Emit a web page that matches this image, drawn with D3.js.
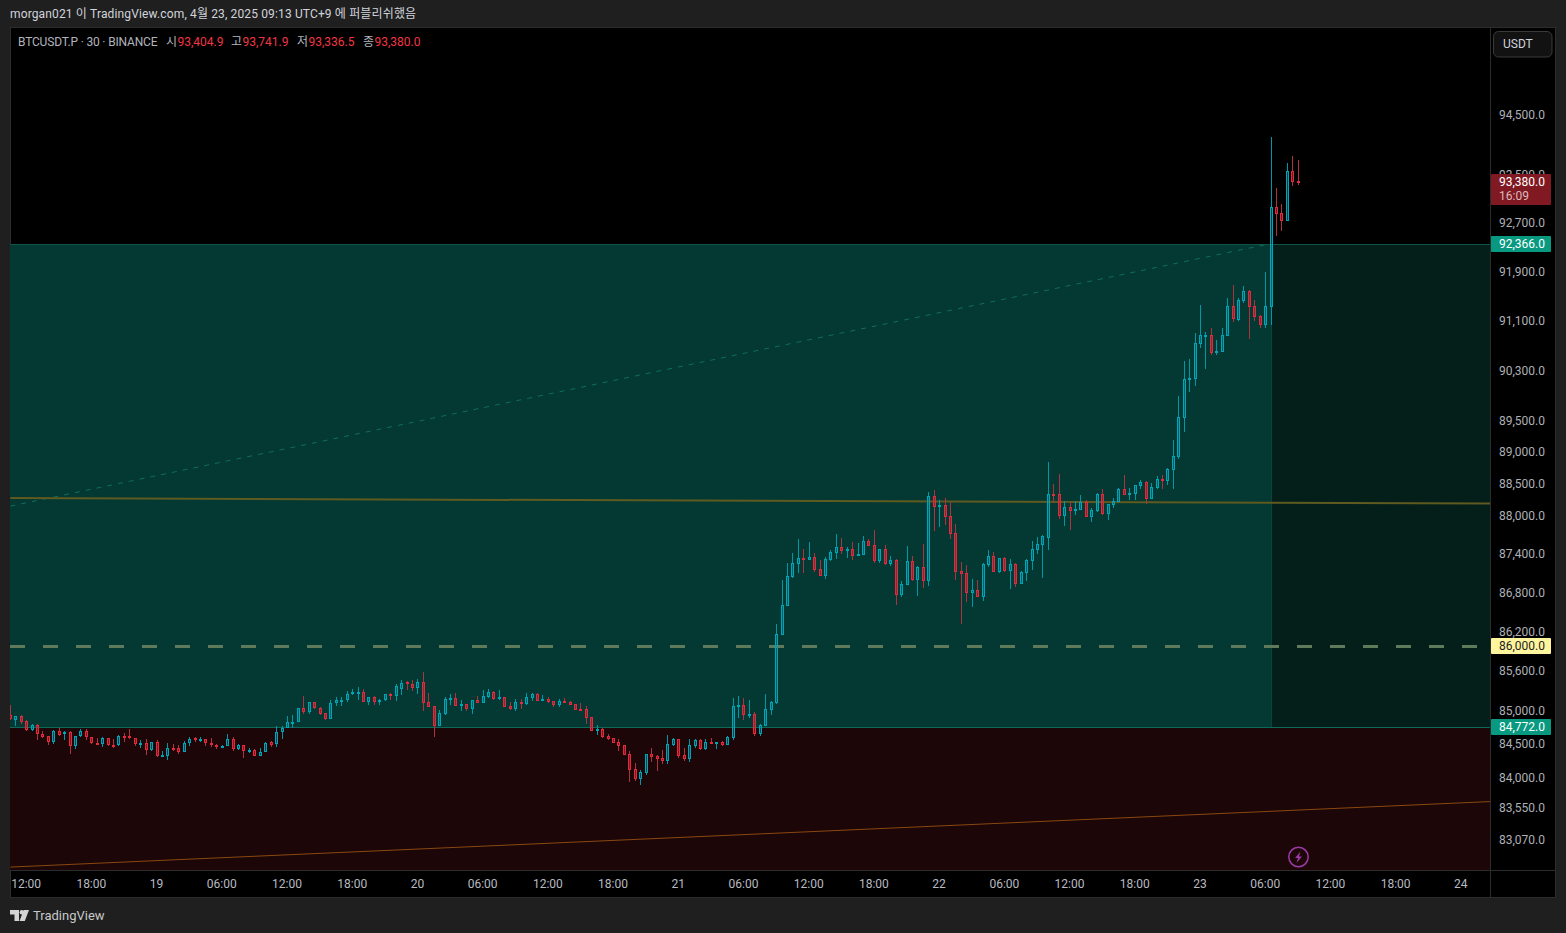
<!DOCTYPE html>
<html><head><meta charset="utf-8">
<script src="https://cdn.jsdelivr.net/npm/d3@7/dist/d3.min.js"></script>
<style>html,body{margin:0;background:#1f1f1f;overflow:hidden}text{font-family:Roboto,"Noto Sans CJK KR",sans-serif}</style>
</head><body><svg id="c" width="1566" height="933"></svg>
<script>
const opens=[84950,84875,84935,84860,84715,84800,84660,84630,84535,84705,84655,84690,84475,84625,84705,84615,84530,84505,84600,84500,84490,84630,84630,84600,84505,84525,84415,84540,84325,84325,84450,84450,84385,84520,84595,84575,84585,84525,84495,84475,84475,84585,84430,84495,84395,84420,84325,84385,84535,84505,84685,84745,84835,84835,85050,84985,85140,85050,84975,84880,85120,85165,85175,85255,85285,85295,85145,85220,85135,85165,85265,85235,
85341,85437,85417,85356,85442,85145,85085,84783,84964,85191,85206,85090,85115,85040,85175,85130,85221,85296,85191,85221,85085,85040,85145,85115,85206,85266,85175,85191,85160,85100,85160,85145,85115,85040,85040,84919,84708,84738,84632,84602,84542,84496,84361,84134,83983,84074,84361,84330,84300,84255,84496,84587,84345,84285,84481,84572,84436,84542,84527,84542,84496,84602,85085,85100,84949,84964,84662,84783,85025,85130,
86166,86599,87048,87249,87342,87311,87358,87172,87063,87311,87419,87512,87466,87481,87373,87389,87605,87543,87296,87481,87249,87311,86769,86924,87296,87002,87203,86986,88317,88147,88178,88008,87729,87141,87110,86800,86847,86738,87234,87373,87125,87342,87141,87249,86940,87110,87296,87466,87543,87664,
88353,88353,88009,88150,88103,88103,88228,87993,88087,88353,88040,88181,88228,88432,88353,88353,88479,88541,88275,88447,88588,88557,88729,88933,89549,90176,90176,90739,90868,90884,90611,90611,90868,91351,91126,91431,91592,91351,91190,91040,91336,92973,92873,92740,93570,93404.9];
const closes=[84885,84930,84845,84715,84795,84655,84620,84535,84710,84650,84690,84475,84630,84705,84610,84520,84520,84605,84490,84490,84630,84620,84595,84505,84525,84415,84540,84325,84340,84445,84440,84385,84525,84585,84585,84585,84520,84490,84475,84480,84585,84430,84495,84400,84420,84325,84390,84525,84500,84690,84750,84840,84845,85050,84990,85140,85045,84965,84880,85125,85170,85175,85260,85290,85295,85145,85215,85135,85175,85260,85250,85385,
85427,85427,85356,85447,85130,85070,84783,84979,85191,85206,85085,85110,85040,85175,85130,85236,85296,85191,85221,85070,85040,85145,85130,85221,85266,85160,85191,85145,85100,85160,85130,85100,85025,85030,84904,84708,84738,84617,84587,84527,84481,84345,84119,83983,84089,84361,84315,84285,84255,84511,84587,84330,84285,84496,84572,84436,84542,84511,84542,84496,84617,85085,85100,84949,84964,84662,84798,85040,85145,86181,
86614,87063,87265,87342,87311,87358,87156,87063,87327,87435,87512,87450,87481,87373,87404,87605,87528,87296,87481,87249,87311,86769,86940,87296,87002,87203,86986,88317,88147,88178,87992,87714,87125,87094,86800,86847,86738,87249,87373,87125,87342,87141,87249,86940,87125,87311,87481,87559,87683,88353,
88338,88009,88150,88087,88118,88228,87993,88103,88353,88040,88197,88244,88432,88338,88369,88494,88541,88275,88463,88588,88573,88745,88949,89565,90176,90193,90756,90884,90884,90595,90627,90884,91351,91142,91447,91592,91335,91174,91045,91351,92973,92857,92740,93570,93387,93380];
const highs=[85100,84935,84950,84875,84805,84815,84705,84635,84725,84755,84705,84705,84630,84740,84735,84620,84605,84620,84605,84585,84645,84680,84740,84600,84570,84590,84540,84570,84410,84525,84510,84495,84555,84615,84620,84620,84585,84605,84510,84500,84665,84620,84510,84495,84450,84435,84450,84540,84555,84785,84785,84930,84950,85050,85235,85140,85140,85065,84975,85175,85220,85220,85315,85340,85370,85340,85220,85235,85190,85265,85280,85415,
85467,85462,85467,85492,85598,85281,85085,85019,85221,85266,85281,85175,85115,85175,85236,85326,85341,85311,85326,85221,85145,85191,85191,85281,85281,85281,85251,85221,85160,85191,85206,85160,85115,85130,85085,84919,84798,84753,84662,84602,84587,84496,84406,84225,84119,84361,84451,84345,84421,84647,84602,84587,84451,84587,84587,84587,84587,84602,84542,84557,84632,85206,85236,85206,85175,84994,84813,85266,85160,86336,
86999,87265,87419,87636,87481,87590,87419,87311,87358,87466,87714,87652,87512,87590,87574,87683,87636,87776,87481,87543,87373,87327,86986,87528,87373,87218,87559,88379,88410,88255,88286,88224,87884,87280,87234,87017,87002,87265,87466,87435,87342,87358,87327,87265,87141,87327,87605,87667,87698,88855,
88510,88667,88244,88228,88244,88338,88259,88134,88369,88432,88197,88291,88447,88651,88447,88494,88573,88557,88526,88635,88651,88761,89199,89903,90466,90498,90916,91367,90933,90997,90804,90997,91479,91689,91479,91672,91608,91447,91206,91894,94134,93288,93022,93703,93819,93741.9];
const lows=[84875,84775,84815,84700,84700,84565,84600,84490,84505,84635,84565,84355,84430,84620,84565,84505,84490,84460,84475,84445,84475,84535,84580,84475,84445,84340,84400,84310,84310,84265,84400,84355,84385,84475,84535,84535,84475,84460,84430,84460,84475,84400,84415,84295,84370,84325,84325,84385,84460,84460,84580,84745,84745,84835,84965,84965,85035,84945,84865,84880,85075,85075,85145,85245,85175,85135,85100,85090,85090,85160,85175,85160,
85251,85326,85311,85266,85009,85070,84617,84783,84949,85100,85085,85009,85009,84964,85130,85130,85206,85175,85175,85070,85025,85009,85040,85100,85160,85160,85160,85130,85070,85070,85130,85100,85025,85025,84813,84708,84647,84602,84572,84527,84406,84345,83938,83953,83893,84044,84240,84104,84210,84210,84481,84300,84255,84240,84451,84421,84421,84511,84436,84481,84496,84572,84904,84874,84904,84632,84632,84783,84949,85115,
86166,86599,87032,87110,87110,87311,87125,87063,87017,87296,87327,87404,87342,87311,87373,87389,87528,87265,87265,87234,87218,86614,86738,86924,86986,86754,86878,86909,87760,87822,87868,87636,87002,86336,86661,86584,86738,86676,87203,87125,87110,87125,86862,86893,86940,86986,87156,87404,87032,87476,
88212,87962,87852,87789,88024,88103,87993,87915,88071,88024,87946,88134,88228,88338,88259,88259,88432,88197,88275,88432,88432,88494,88432,88902,89325,89967,90064,90675,90337,90563,90563,90611,90868,91093,91109,91399,90820,91109,90997,90990,91032,92492,92575,92740,93321,93336.5];

const priceTicks=[94500,93500,92700,91900,91100,90300,89500,89000,88500,88000,87400,86800,86200,85600,85000,84500,84000,83550,83070];
const timeTickDates=["2025-04-18T12:00Z","2025-04-18T18:00Z","2025-04-19T00:00Z","2025-04-19T06:00Z","2025-04-19T12:00Z","2025-04-19T18:00Z","2025-04-20T00:00Z","2025-04-20T06:00Z","2025-04-20T12:00Z","2025-04-20T18:00Z","2025-04-21T00:00Z","2025-04-21T06:00Z","2025-04-21T12:00Z","2025-04-21T18:00Z","2025-04-22T00:00Z","2025-04-22T06:00Z","2025-04-22T12:00Z","2025-04-22T18:00Z","2025-04-23T00:00Z","2025-04-23T06:00Z","2025-04-23T12:00Z","2025-04-23T18:00Z","2025-04-24T00:00Z"];
const timeTickLabels=["12:00","18:00","19","06:00","12:00","18:00","20","06:00","12:00","18:00","21","06:00","12:00","18:00","22","06:00","12:00","18:00","23","06:00","12:00","18:00","24"];
const firstBar="2025-04-18T10:30Z", lastBar="2025-04-23T09:00Z", barMs=1800000;
const takeProfit=92366, entryPrice=86000, stopPrice=84772, zoneEndBar="2025-04-23T06:30Z";
const ohlcLabels=["시","고","저","종"], ohlcValues=["93,404.9","93,741.9","93,336.5","93,380.0"];
const olivePrices=[88283,88197], orangePrices=[82680,83648], dashedPrices=[88156,92366];
const lineTimes=["2025-04-18T10:30Z","2025-04-24T02:40Z"], dashedTimes=["2025-04-18T10:30Z","2025-04-23T06:30Z"];

const svg=d3.select("#c");
const PL=10,PR=1490,PT=28,PB=870;
const x=d3.scaleUtc().domain([new Date(firstBar),new Date(lastBar)]).range([10.3,1298.3]);
const y=d3.scaleLog().domain([83070,94500]).range([840.6,115]);
const rx=t=>x(new Date(t));
const sx=i=>Math.floor(x(new Date(+new Date(firstBar)+i*barMs)));
const sy=v=>Math.round(y(v));
const cy=v=>Math.ceil(y(v));

// frame
svg.append("rect").attr("x",PL+.5).attr("y",27.5).attr("width",1545).attr("height",870).attr("fill","#000").attr("stroke","#2c2c2c");
svg.append("clipPath").attr("id","pane").append("rect").attr("x",PL).attr("y",PT).attr("width",PR-PL).attr("height",PB-PT);
const g=svg.append("g").attr("clip-path","url(#pane)");
const zx=Math.round(rx(zoneEndBar)+.7);
const zt=cy(takeProfit), zb=cy(stopPrice);
g.append("rect").attr("x",PL).attr("y",zt).attr("width",zx-PL).attr("height",zb-zt).attr("fill","#043832");
g.append("rect").attr("x",zx).attr("y",zt).attr("width",PR-zx).attr("height",zb-zt).attr("fill","#041f1a");
g.append("rect").attr("x",PL).attr("y",zb).attr("width",PR-PL).attr("height",PB-zb).attr("fill","#1c0608");
g.append("line").attr("x1",zx-.5).attr("x2",zx-.5).attr("y1",zt).attr("y2",zb).attr("stroke","#06473d");
g.append("line").attr("x1",PL).attr("x2",PR).attr("y1",zt+.5).attr("y2",zt+.5).attr("stroke","#0c5548");
g.append("line").attr("x1",PL).attr("x2",PR).attr("y1",zb+.5).attr("y2",zb+.5).attr("stroke","#0e6a58");

const ln=d3.line().x(d=>rx(d.t)).y(d=>y(d.p));
g.append("path").attr("d",ln(dashedTimes.map((t,i)=>({t,p:dashedPrices[i]})))).attr("fill","none").attr("stroke","#0f6e5a").attr("stroke-dasharray","5 6");
g.append("path").attr("d",ln(lineTimes.map((t,i)=>({t,p:olivePrices[i]})))).attr("fill","none").attr("stroke","#5f5a20").attr("stroke-width",2);
g.append("path").attr("d",ln(lineTimes.map((t,i)=>({t,p:orangePrices[i]})))).attr("fill","none").attr("stroke","#8a480f").attr("stroke-width",1);
g.append("line").attr("x1",PL).attr("x2",PR).attr("y1",cy(entryPrice)+.5).attr("y2",cy(entryPrice)+.5).attr("stroke","#5e7a5a").attr("stroke-width",3).attr("stroke-dasharray","15 18");

// candles: 1px wick, 3px hollow-looking body with a translucent interior
const cs=g.append("g").attr("shape-rendering","crispEdges");
const pal={up:{wick:"#0097a7",edge:"#00a5ba",fill:"#00a5ba",op:.35},dn:{wick:"#ab3442",edge:"#e32a3d",fill:"#e32a3d",op:.5}};
opens.forEach((o,i)=>{
  const c=closes[i],p=c>=o?pal.up:pal.dn,X=sx(i);
  const t=sy(Math.max(o,c)),b=Math.max(sy(Math.min(o,c)),t+2);
  const H=sy(highs[i]),L=sy(lows[i]);
  if(t>H) cs.append("rect").attr("x",X).attr("y",H).attr("width",1).attr("height",t-H).attr("fill",p.wick);
  if(L>b) cs.append("rect").attr("x",X).attr("y",b).attr("width",1).attr("height",L-b).attr("fill",p.wick);
  cs.append("rect").attr("x",X-1).attr("y",t).attr("width",1).attr("height",b-t).attr("fill",p.edge);
  cs.append("rect").attr("x",X+1).attr("y",t).attr("width",1).attr("height",b-t).attr("fill",p.edge);
  cs.append("rect").attr("x",X).attr("y",t).attr("width",1).attr("height",1).attr("fill",p.edge);
  cs.append("rect").attr("x",X).attr("y",b-1).attr("width",1).attr("height",1).attr("fill",p.edge);
  if(b-t>2) cs.append("rect").attr("x",X).attr("y",t+1).attr("width",1).attr("height",b-t-2).attr("fill",p.fill).attr("opacity",p.op);
});

// dividers
svg.append("line").attr("x1",PR+.5).attr("x2",PR+.5).attr("y1",PT).attr("y2",897).attr("stroke","#2c2c2c");
svg.append("line").attr("x1",PL).attr("x2",1555).attr("y1",PB+.5).attr("y2",PB+.5).attr("stroke","#2c2c2c");

// axes
const axY=svg.append("g").attr("transform","translate(1499,-0.6)").call(d3.axisRight(y).tickValues(priceTicks).tickSize(0).tickPadding(0).tickFormat(d3.format(",.1f")));
axY.select(".domain").remove();
axY.selectAll("text").attr("fill","#aeb0b6").attr("font-size",12).attr("dy","0.32em").attr("x",0);
const axX=svg.append("g").attr("transform","translate(0,879)").call(d3.axisBottom(x).tickValues(timeTickDates.map(d=>new Date(d))).tickSize(0).tickPadding(0).tickFormat((d,i)=>timeTickLabels[i]));
axX.select(".domain").remove();
axX.selectAll("text").attr("fill","#b8bac0").attr("font-size",12).attr("dy","0.71em").attr("x",-1);

// price tags
function tag(p,fill,fg,h1,h2,ty){
  svg.append("rect").attr("x",1491).attr("y",h1).attr("width",60).attr("height",h2-h1).attr("rx",1).attr("fill",fill);
  svg.append("text").attr("x",1499).attr("y",ty).attr("dy","0.32em").attr("font-size",12).attr("fill",fg).text(d3.format(",.1f")(p));
}
tag(93380,"#801922","#fff",174,205,182);
svg.append("text").attr("x",1499).attr("y",196).attr("dy","0.32em").attr("font-size",12).attr("fill","#dcb9bc").text("16:09");
tag(takeProfit,"#089981","#fff",236,252,244);
tag(entryPrice,"#fff59d","#222",638,654,646);
tag(stopPrice,"#089981","#fff",719,735,727);

// header + legend
svg.append("text").attr("x",10).attr("y",18).attr("font-size",12).attr("letter-spacing",.14).attr("fill","#d1d4dc").text("morgan021 이 TradingView.com, 4월 23, 2025 09:13 UTC+9 에 퍼블리쉬했음");
svg.append("text").attr("x",18).attr("y",46).attr("font-size",12).attr("letter-spacing",-.17).attr("fill","#b2b5be").text("BTCUSDT.P · 30 · BINANCE");
[166,231,297,363].forEach((X,i)=>{
  svg.append("text").attr("x",X).attr("y",46).attr("font-size",12).attr("fill","#b2b5be").text(ohlcLabels[i]);
  svg.append("text").attr("x",X+11.5).attr("y",46).attr("font-size",12).attr("fill","#f23645").text(ohlcValues[i]);
});
// USDT button
svg.append("rect").attr("x",1493.5).attr("y",31.5).attr("width",58.5).attr("height",25.5).attr("rx",5).attr("fill","#121212").attr("stroke","#3a3a3a");
svg.append("text").attr("x",1503).attr("y",48).attr("font-size",12).attr("fill","#d1d4dc").text("USDT");
// bolt icon
svg.append("circle").attr("cx",1298.5).attr("cy",857).attr("r",9.7).attr("fill","none").attr("stroke","#9c3aa8").attr("stroke-width",1.5);
svg.append("path").attr("d","M1300.5 851.5L1295 858h3l-1.5 5 5.5-6.5h-3z").attr("fill","#9c3aa8");
// logo
svg.append("path").attr("fill","#d4d4d4").attr("d","M10 910h9v11h-4.5v-6.5H10zM19.5 921l4.2-11H29l-4.2 11z");
svg.append("circle").attr("cx",21.8).attr("cy",912.2).attr("r",2.2).attr("fill","#d4d4d4");
svg.append("text").attr("x",33).attr("y",920).attr("font-size",13).attr("fill","#c8c8c8").text("TradingView");
</script></body></html>
